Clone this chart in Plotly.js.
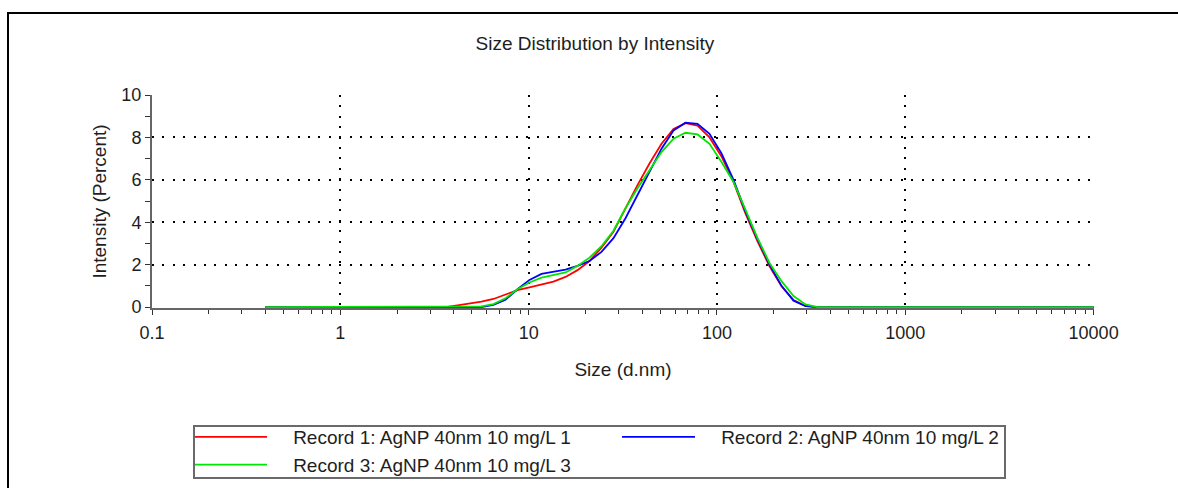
<!DOCTYPE html>
<html>
<head>
<meta charset="utf-8">
<script src="https://cdn.plot.ly/plotly-3.0.1.min.js"></script>
<style>
html,body{margin:0;padding:0;background:#fff;overflow:hidden;}
#chart{width:1178px;height:488px;}
#frame{position:absolute;left:7px;top:12px;width:1300px;height:600px;border-left:2px solid #000;border-top:2px solid #000;pointer-events:none;z-index:10;}
#legendbox{position:absolute;left:193px;top:425px;width:809px;height:50px;border:2px solid #6a6a6a;pointer-events:none;z-index:10;}
</style>
</head>
<body>
<div id="frame"></div>
<div id="legendbox"></div>
<div id="chart"></div>
<script>
// Size bins (d.nm)
const sizes = [0.4,0.4632,0.5365,0.6213,0.7195,0.8332,0.9649,1.117,1.294,1.499,
  1.736,2.010,2.328,2.696,3.122,3.615,4.187,4.849,5.615,6.503,
  7.531,8.721,10.10,11.70,13.54,15.69,18.17,21.04,24.36,28.21,
  32.67,37.84,43.82,50.75,58.77,68.06,78.82,91.28,105.7,122.4,
  141.8,164.2,190.1,220.2,255.0,295.3,342.0,396.1,458.7,531.2,
  615.1,712.4,825.0,955.4,1106,1281,1484,1718,1990,2305,
  2669,3091,3580,4145,4801,5560,6439,7456,8635,10000];

const record1 = [0,0,0,0,0,0,0,0,0,0,
  0,0,0,0,0,0,0.08,0.16,0.25,0.38,
  0.6,0.8,0.93,1.06,1.2,1.42,1.74,2.17,2.8,3.55,
  4.66,5.75,6.77,7.7,8.4,8.67,8.56,8.0,7.1,5.9,
  4.4,3.1,1.92,0.98,0.33,0.05,0,0,0,0,
  0,0,0,0,0,0,0,0,0,0,
  0,0,0,0,0,0,0,0,0,0];

const record2 = [0,0,0,0,0,0,0,0,0,0,
  0,0,0,0,0,0,0,0,0,0.1,
  0.34,0.84,1.28,1.56,1.67,1.76,1.94,2.17,2.6,3.25,
  4.19,5.28,6.38,7.47,8.33,8.69,8.64,8.17,7.25,6.0,
  4.5,3.2,2.0,1.0,0.3,0.04,0,0,0,0,
  0,0,0,0,0,0,0,0,0,0,
  0,0,0,0,0,0,0,0,0,0];

const record3 = [0,0,0,0,0,0,0,0,0,0,
  0,0,0,0,0,0,0,0,0.03,0.14,
  0.41,0.84,1.16,1.39,1.5,1.63,1.94,2.33,2.87,3.6,
  4.66,5.6,6.45,7.31,7.94,8.22,8.14,7.7,6.84,5.9,
  4.58,3.25,2.08,1.22,0.52,0.12,0,0,0,0,
  0,0,0,0,0,0,0,0,0,0,
  0,0,0,0,0,0,0,0,0,0];

const seriesNames = ["Record 1: AgNP 40nm 10 mg/L 1","Record 2: AgNP 40nm 10 mg/L 2","Record 3: AgNP 40nm 10 mg/L 3"];
const seriesColors = ["#ff0000","#0000ff","#00e600"];
const xTickVals = [0.1,1,10,100,1000,10000];
const xTickText = ["0.1","1","10","100","1000","10000"];
const yTickVals = [0,2,4,6,8,10];

const FONT = "Liberation Sans, Arial, sans-serif";
const TXT = "#1e1e1e";
const PAD = "\u00a0\u00a0\u00a0\u00a0";

const data = [record1, record2, record3].map((ys,i)=>({
  x: sizes, y: ys, type:'scatter', mode:'lines', name: PAD + seriesNames[i],
  line:{color: seriesColors[i], width:1.8}
}));

const X_RANGE = [-1, 4.002];
const Y_RANGE = [-0.045, 10];

const layout = {
  width:1178, height:488,
  margin:{l:152, r:84, t:95, b:180, autoexpand:false},
  paper_bgcolor:'#fff', plot_bgcolor:'#fff',
  font:{family:FONT, size:18, color:TXT},
  title:{text:"Size Distribution by Intensity", xref:'container', x:0.505, xanchor:'center', yref:'container', y:0.912, yanchor:'middle', font:{size:19, color:TXT}},
  showlegend:true,
  legend:{orientation:'h', x:0.0393, xanchor:'left', y:-0.5164, yanchor:'top',
    borderwidth:0, bgcolor:'rgba(0,0,0,0)',
    entrywidth:340, entrywidthmode:'pixels', itemwidth:73,
    font:{size:19, color:TXT}, traceorder:'normal', tracegroupgap:0},
  xaxis:{type:'log', range:X_RANGE, tickvals:xTickVals, ticktext:xTickText, layer:'below traces',
    showline:true, linecolor:'#666', linewidth:1.6, zeroline:false,
    ticks:'outside', ticklen:5, tickcolor:'#333', tickwidth:1, ticklabelstandoff:3,
    showgrid:true, gridcolor:'#000', gridwidth:2, griddash:'2px,8.4px',
    minor:{ticks:'outside', ticklen:4, tickcolor:'#333', tickwidth:1, showgrid:false, dtick:'D1'},
    title:{text:"Size (d.nm)", font:{size:19, color:TXT}, standoff:20},
    tickfont:{size:18, color:TXT}, automargin:false},
  yaxis:{range:Y_RANGE, tickvals:yTickVals, showline:true, linecolor:'#666', linewidth:2, zeroline:false, layer:'below traces',
    ticks:'outside', ticklen:5, tickcolor:'#333', tickwidth:1,
    showgrid:true, gridcolor:'#000', gridwidth:2, griddash:'2px,8.4px',
    minor:{ticks:'outside', ticklen:5, tickcolor:'#333', tickwidth:1, showgrid:false, dtick:1},
    title:{text:"Intensity (Percent)", font:{size:19, color:TXT}, standoff:10},
    tickfont:{size:18, color:TXT}, automargin:false},
  xaxis2:{type:'log', range:X_RANGE, overlaying:'x', anchor:'y', showgrid:false, showticklabels:false,
    ticks:'inside', ticklen:4, tickcolor:'#333', tickvals:xTickVals, zeroline:false, showline:false,
    minor:{ticks:'inside', ticklen:3, tickcolor:'#333', dtick:'D1', showgrid:false}},
  yaxis2:{range:Y_RANGE, overlaying:'y', anchor:'x', showgrid:false, showticklabels:false,
    ticks:'', zeroline:false, showline:false,
    minor:{ticks:'inside', ticklen:5, tickcolor:'#333', dtick:1, showgrid:false}}
};

Plotly.newPlot('chart', data, layout, {staticPlot:true, displayModeBar:false});
</script>
</body>
</html>
